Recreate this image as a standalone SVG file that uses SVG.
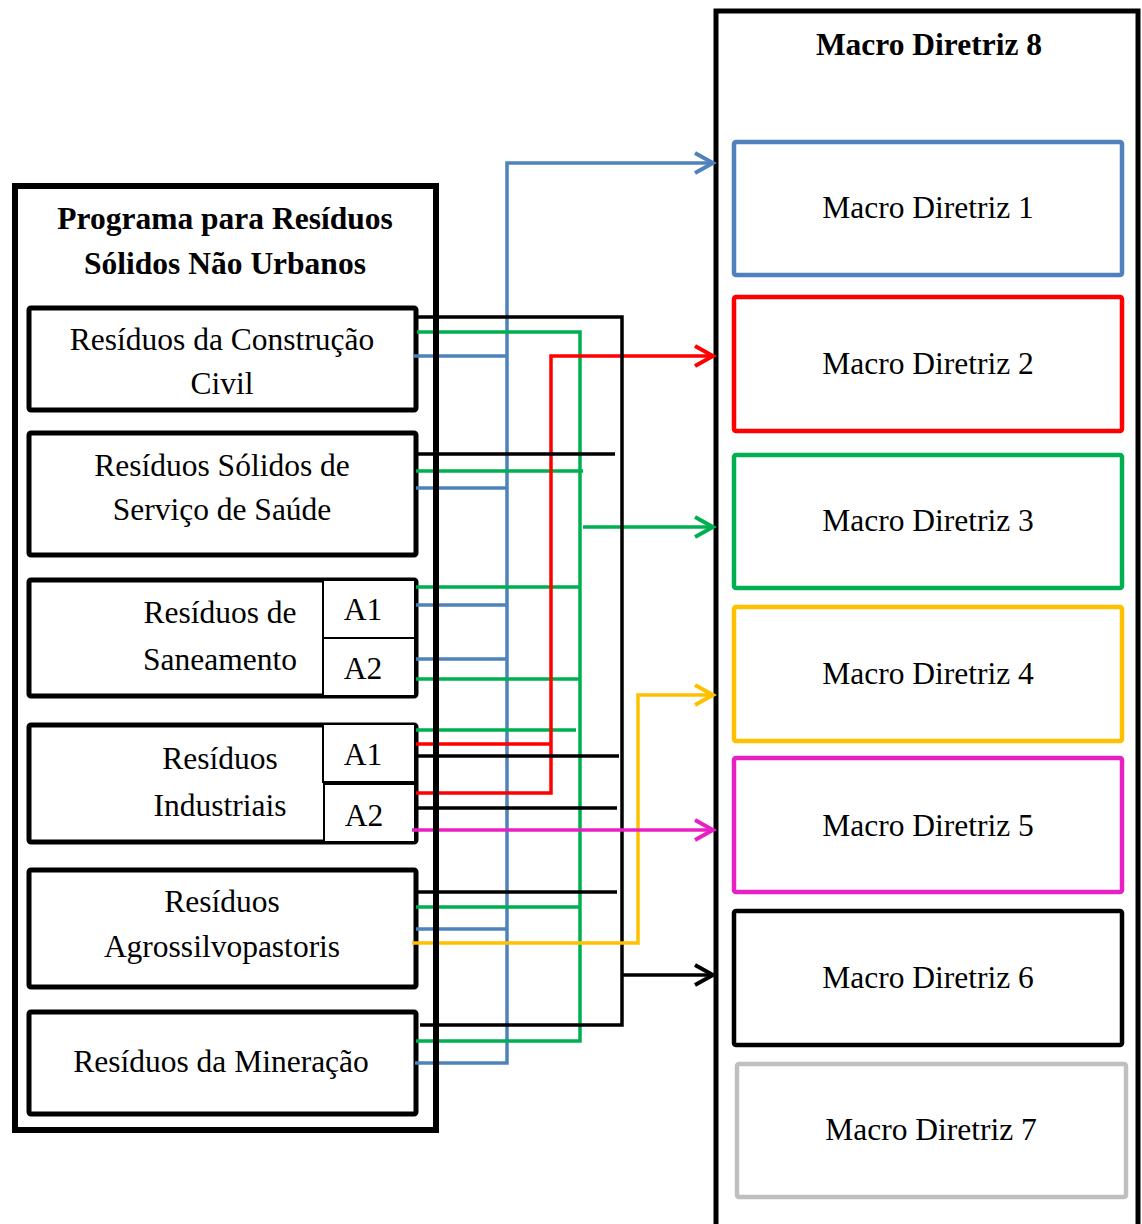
<svg xmlns="http://www.w3.org/2000/svg" width="1142" height="1224" viewBox="0 0 1142 1224">
  <style>
    .t { font-family: "Liberation Serif", "Times New Roman", serif; font-size: 31.5px; fill: #000; text-anchor: middle; }
    .b { font-weight: bold; }
    .box { fill: #fff; stroke: #000; stroke-width: 5; }
    .sub { fill: #fff; stroke: #000; stroke-width: 2; }
    .md { fill: #fff; stroke-width: 4.5; }
    .c { fill: none; stroke-width: 3.5; stroke-linejoin: miter; }
    .blue { stroke: #4F81BD; }
    .red { stroke: #FF0000; }
    .green { stroke: #00B050; }
    .yellow { stroke: #FFC000; }
    .pink { stroke: #E820C4; }
    .black { stroke: #000; }
    .gray { stroke: #BFBFBF; }
  </style>
  <defs>
    <marker id="ah-blue" markerUnits="userSpaceOnUse" markerWidth="24" markerHeight="26" refX="20" refY="12" orient="auto">
      <path d="M2,2 L20,12 L2,22" fill="none" stroke="#4F81BD" stroke-width="4"/>
    </marker>
    <marker id="ah-red" markerUnits="userSpaceOnUse" markerWidth="24" markerHeight="26" refX="20" refY="12" orient="auto">
      <path d="M2,2 L20,12 L2,22" fill="none" stroke="#FF0000" stroke-width="4"/>
    </marker>
    <marker id="ah-green" markerUnits="userSpaceOnUse" markerWidth="24" markerHeight="26" refX="20" refY="12" orient="auto">
      <path d="M2,2 L20,12 L2,22" fill="none" stroke="#00B050" stroke-width="4"/>
    </marker>
    <marker id="ah-yellow" markerUnits="userSpaceOnUse" markerWidth="24" markerHeight="26" refX="20" refY="12" orient="auto">
      <path d="M2,2 L20,12 L2,22" fill="none" stroke="#FFC000" stroke-width="4"/>
    </marker>
    <marker id="ah-pink" markerUnits="userSpaceOnUse" markerWidth="24" markerHeight="26" refX="20" refY="12" orient="auto">
      <path d="M2,2 L20,12 L2,22" fill="none" stroke="#E820C4" stroke-width="4"/>
    </marker>
    <marker id="ah-black" markerUnits="userSpaceOnUse" markerWidth="24" markerHeight="26" refX="20" refY="12" orient="auto">
      <path d="M2,2 L20,12 L2,22" fill="none" stroke="#000" stroke-width="4"/>
    </marker>
  </defs>

  <rect width="1142" height="1224" fill="#fff"/>

  <!-- Macro Diretriz 8: container on the right -->
  <g id="macro8">
    <rect x="716" y="11" width="422" height="1240" fill="#fff" stroke="#000" stroke-width="5"/>
    <text class="t b" x="929" y="55">Macro Diretriz 8</text>
  </g>

  <g id="macro1">
    <rect class="md blue" x="734" y="142" width="388" height="133" rx="2"/>
    <text class="t" x="928" y="218">Macro Diretriz 1</text>
  </g>
  <g id="macro2">
    <rect class="md red" x="734" y="297" width="388" height="134" rx="2"/>
    <text class="t" x="928" y="374">Macro Diretriz 2</text>
  </g>
  <g id="macro3">
    <rect class="md green" x="734" y="455" width="388" height="133" rx="2"/>
    <text class="t" x="928" y="531">Macro Diretriz 3</text>
  </g>
  <g id="macro4">
    <rect class="md yellow" x="734" y="607" width="388" height="134" rx="2"/>
    <text class="t" x="928" y="684">Macro Diretriz 4</text>
  </g>
  <g id="macro5">
    <rect class="md pink" x="734" y="758" width="388" height="134" rx="2"/>
    <text class="t" x="928" y="836">Macro Diretriz 5</text>
  </g>
  <g id="macro6">
    <rect class="md black" x="734" y="911" width="388" height="134" rx="2"/>
    <text class="t" x="928" y="988">Macro Diretriz 6</text>
  </g>
  <g id="macro7">
    <rect class="md gray" x="737" y="1064" width="389" height="133" rx="2"/>
    <text class="t" x="931" y="1140">Macro Diretriz 7</text>
  </g>

  <!-- Program title -->
  <g id="programa-title">
    <text class="t b" x="225" y="229">Programa para Resíduos</text>
    <text class="t b" x="225" y="274">Sólidos Não Urbanos</text>
  </g>

  <!-- Waste categories -->
  <g id="construcao">
    <rect class="box" x="29" y="308" width="387" height="102" rx="2"/>
    <text class="t" x="222" y="350">Resíduos da Construção</text>
    <text class="t" x="222" y="394">Civil</text>
  </g>
  <g id="saude">
    <rect class="box" x="29" y="433" width="387" height="122" rx="2"/>
    <text class="t" x="222" y="476">Resíduos Sólidos de</text>
    <text class="t" x="222" y="520">Serviço de Saúde</text>
  </g>
  <g id="saneamento">
    <rect class="box" x="29" y="580" width="387" height="116" rx="2"/>
    <text class="t" x="220" y="623">Resíduos de</text>
    <text class="t" x="220" y="670">Saneamento</text>
    <rect class="sub" x="323" y="580" width="92" height="58"/>
    <rect class="sub" x="323" y="638" width="92" height="58"/>
    <text class="t" x="363" y="620">A1</text>
    <text class="t" x="363" y="679">A2</text>
  </g>
  <g id="industriais">
    <rect class="box" x="29" y="725" width="387" height="117" rx="2"/>
    <text class="t" x="220" y="769">Resíduos</text>
    <text class="t" x="220" y="816">Industriais</text>
    <rect class="sub" x="323" y="724" width="92" height="58"/>
    <rect class="sub" x="324" y="784" width="91" height="58"/>
    <text class="t" x="363" y="765">A1</text>
    <text class="t" x="364" y="826">A2</text>
  </g>
  <g id="agrossilvopastoris">
    <rect class="box" x="29" y="870" width="387" height="117" rx="2"/>
    <text class="t" x="222" y="912">Resíduos</text>
    <text class="t" x="222" y="957">Agrossilvopastoris</text>
  </g>
  <g id="mineracao">
    <rect class="box" x="29" y="1012" width="387" height="102" rx="2"/>
    <text class="t" x="221" y="1072">Resíduos da Mineração</text>
  </g>

  <!-- Connectors -->
  <g id="connectors">
    <!-- blue bus -> Macro Diretriz 1 -->
    <path class="c blue" d="M415,1063 H507 V163 H713" marker-end="url(#ah-blue)"/>
    <path class="c blue" d="M414,356 H507 M416,488 H507 M416,605 H507 M416,659 H507 M416,929 H507"/>

    <!-- green bus -> Macro Diretriz 3 -->
    <path class="c green" d="M417,332 H580 V1041 H416"/>
    <path class="c green" d="M416,471 H583 M416,587 H580 M416,679 H580 M416,730 H576 M416,907 H580"/>
    <path class="c green" d="M583,527 H713" marker-end="url(#ah-green)"/>

    <!-- red bus -> Macro Diretriz 2 -->
    <path class="c red" d="M416,793 H551 V356 H713" marker-end="url(#ah-red)"/>
    <path class="c red" d="M416,744 H551"/>

    <!-- black bus -> Macro Diretriz 6 -->
    <path class="c black" d="M417,317 H622 V1025 H420"/>
    <path class="c black" d="M414,454 H615 M416,756 H619 M416,808 H617 M416,892 H617"/>
    <path class="c black" d="M622,975 H713" marker-end="url(#ah-black)"/>

    <!-- yellow -> Macro Diretriz 4 -->
    <path class="c yellow" d="M412,943 H638 V695 H713" marker-end="url(#ah-yellow)"/>

    <!-- magenta -> Macro Diretriz 5 -->
    <path class="c pink" d="M412,830 H713" marker-end="url(#ah-pink)"/>
  </g>

  <!-- Program frame drawn above the connector crossings -->
  <g id="programa">
    <rect x="15" y="186" width="421" height="944" fill="none" stroke="#000" stroke-width="6"/>
  </g>
</svg>
